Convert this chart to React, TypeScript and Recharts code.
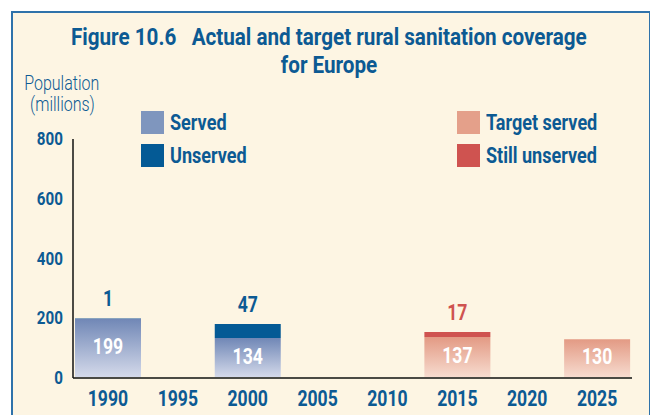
import React from 'react';
import { BarChart, Bar, XAxis, YAxis, LabelList } from 'recharts';

// Values (millions of people)
const years = ['1990', '1995', '2000', '2005', '2010', '2015', '2020', '2025'];
const served = [199, null, 134, null, null, null, null, null];
const unserved = [1, null, 47, null, null, null, null, null];
const targetServed = [null, null, null, null, null, 137, null, 130];
const stillUnserved = [null, null, null, null, null, 17, null, null];
const yTicks = [0, 200, 400, 600, 800];

const data = years.map((year, i) => ({
  year,
  served: served[i],
  unserved: unserved[i],
  targetServed: targetServed[i],
  stillUnserved: stillUnserved[i],
}));

const BLUE_TEXT = '#0c5a93';
const FONT = 'Roboto, sans-serif';
const SX = 0.8; // the original uses a condensed face, so squeeze Roboto horizontally

const legendItems = [
  { label: 'Served', color: '#7f96be', left: 141, top: 111 },
  { label: 'Unserved', color: '#045a95', left: 141, top: 144 },
  { label: 'Target served', color: '#e4a08a', left: 457, top: 111 },
  { label: 'Still unserved', color: '#cf5350', left: 457, top: 144 },
];

// svg text squeezed around its anchor point
const CondText = ({ x, y, anchor, size, color, weight = 'bold', children }: any) => (
  <text
    transform={`translate(${x} ${y}) scale(${SX} 1)`}
    textAnchor={anchor}
    dominantBaseline="middle"
    fill={color}
    fontFamily={FONT}
    fontWeight={weight}
    fontSize={size}
  >
    {children}
  </text>
);

const YTick = ({ y, payload }: any) => (
  <CondText x={63} y={y + 1} anchor="end" size={19} color={BLUE_TEXT}>
    {payload.value}
  </CondText>
);

const XTick = ({ x, y, payload }: any) => (
  <CondText x={x} y={y + 14} anchor="middle" size={22} color={BLUE_TEXT}>
    {payload.value}
  </CondText>
);

// value label drawn only where the series has a value
const makeLabel = (color: string, where: 'inside' | 'top') => (props: any) => {
  const { x, y, width, height, value } = props;
  if (value == null) return null;
  const cy = where === 'inside' ? y + height / 2 : y - 18;
  return (
    <CondText x={x + width / 2} y={cy} anchor="middle" size={22} color={color}>
      {value}
    </CondText>
  );
};

const squeeze = (origin: string, sx = SX): React.CSSProperties => ({
  display: 'inline-block',
  transform: `scaleX(${sx})`,
  transformOrigin: origin,
  whiteSpace: 'pre',
});

export default function App() {
  return (
    <div style={{ position: 'absolute', left: 0, top: 0, width: 650, height: 415, overflow: 'hidden', background: '#ffffff' }}>
      <div
        style={{
          position: 'absolute',
          left: 11,
          top: 11,
          width: 636,
          height: 420,
          border: '2px solid #2f72aa',
          background: '#fdf5e3',
        }}
      />
      <div
        style={{
          position: 'absolute',
          left: 0,
          top: 23,
          width: 658,
          textAlign: 'center',
          fontFamily: FONT,
          fontWeight: 'bold',
          fontSize: 24,
          lineHeight: '28px',
          color: BLUE_TEXT,
        }}
      >
        <span style={squeeze('center', 0.86)}>{'Figure 10.6   Actual and target rural sanitation coverage'}</span>
        <br />
        <span style={squeeze('center', 0.86)}>for Europe</span>
      </div>
      <div
        style={{
          position: 'absolute',
          left: 12,
          top: 73,
          width: 100,
          textAlign: 'center',
          fontFamily: FONT,
          fontWeight: 300,
          fontSize: 19.5,
          lineHeight: '21px',
          color: BLUE_TEXT,
        }}
      >
        <span style={squeeze('center', 0.82)}>Population</span>
        <br />
        <span style={squeeze('center', 0.82)}>(millions)</span>
      </div>
      {legendItems.map((item) => (
        <div key={item.label} style={{ position: 'absolute', left: item.left, top: item.top, display: 'flex', alignItems: 'center' }}>
          <div style={{ width: 23, height: 23, background: item.color }} />
          <span
            style={{
              marginLeft: 6,
              fontFamily: FONT,
              fontWeight: 'bold',
              fontSize: 22,
              lineHeight: '23px',
              color: BLUE_TEXT,
              ...squeeze('left', 0.82),
            }}
          >
            {item.label}
          </span>
        </div>
      ))}
      <div style={{ position: 'absolute', left: 0, top: 0 }}>
        <BarChart width={650} height={415} data={data} margin={{ top: 139, right: 18, bottom: 0, left: 0 }} barSize={66}>
          <defs>
            <linearGradient id="servedGrad" x1="0" y1="0" x2="0" y2="1">
              <stop offset="0%" stopColor="#7087b6" />
              <stop offset="100%" stopColor="#d6dbeb" />
            </linearGradient>
            <linearGradient id="targetGrad" x1="0" y1="0" x2="0" y2="1">
              <stop offset="0%" stopColor="#e39a84" />
              <stop offset="100%" stopColor="#f7ddd1" />
            </linearGradient>
          </defs>
          <XAxis
            dataKey="year"
            height={37}
            tickLine={false}
            axisLine={{ stroke: '#4a4a44', strokeWidth: 2 }}
            tick={<XTick />}
            interval={0}
          />
          <YAxis
            width={73}
            domain={[0, 800]}
            ticks={yTicks}
            tickLine={false}
            axisLine={{ stroke: '#111111', strokeWidth: 1.5 }}
            tick={<YTick />}
          />
          <Bar dataKey="served" stackId="a" fill="url(#servedGrad)" isAnimationActive={false}>
            <LabelList dataKey="served" content={makeLabel('#ffffff', 'inside')} />
          </Bar>
          <Bar dataKey="unserved" stackId="a" fill="#045a95" isAnimationActive={false}>
            <LabelList dataKey="unserved" content={makeLabel(BLUE_TEXT, 'top')} />
          </Bar>
          <Bar dataKey="targetServed" stackId="a" fill="url(#targetGrad)" isAnimationActive={false}>
            <LabelList dataKey="targetServed" content={makeLabel('#ffffff', 'inside')} />
          </Bar>
          <Bar dataKey="stillUnserved" stackId="a" fill="#cf5350" isAnimationActive={false}>
            <LabelList dataKey="stillUnserved" content={makeLabel('#cf5350', 'top')} />
          </Bar>
        </BarChart>
      </div>
    </div>
  );
}
